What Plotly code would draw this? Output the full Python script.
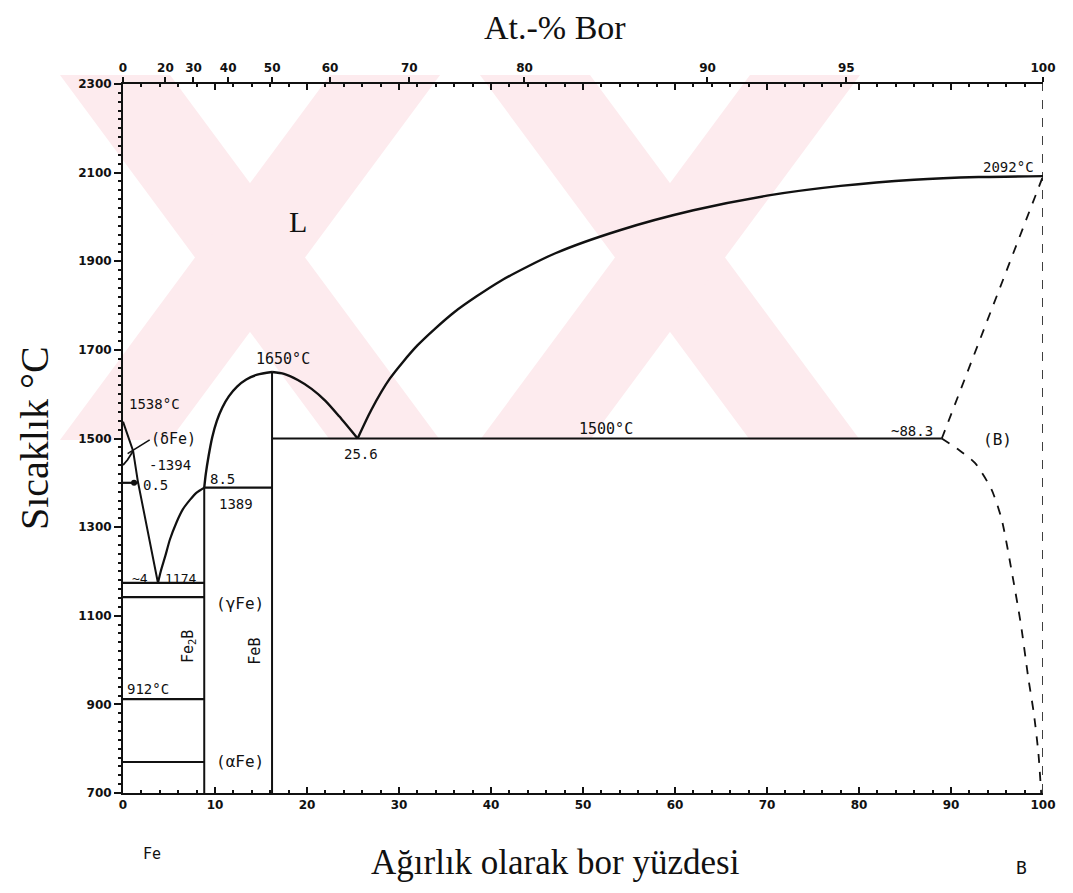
import plotly.graph_objects as go

# ---------------- data (wt.% B, temperature °C) ----------------
liq_fe_x = [0, 0.6, 1.1, 1.6, 2.7, 3.8]
liq_fe_T = [1538, 1500, 1472, 1405, 1290, 1174]

liq_fe2b_x = [3.8, 4.1, 4.6, 5.1, 5.8, 6.5, 7.3, 8.0, 8.83]
liq_fe2b_T = [1174, 1200, 1235, 1272, 1310, 1340, 1362, 1378, 1389]

liq_febL_x = [8.83, 9.0, 9.3, 9.7, 10.2, 10.8, 11.5, 12.4, 13.4, 14.6, 16.2]
liq_febL_T = [1389, 1420, 1460, 1503, 1540, 1570, 1595, 1617, 1633, 1644, 1650]

liq_febR_x = [16.2, 17.5, 19.0, 20.5, 22.0, 23.5, 25.5]
liq_febR_T = [1650, 1646, 1632, 1612, 1585, 1550, 1500]

liq_b_x = [25.5, 27.0, 29.0, 32.0, 36.0, 41.0, 47.0, 54.0, 62.0, 70.0, 78.0, 86.0, 93.0, 100]
liq_b_T = [1500, 1565, 1635, 1710, 1785, 1855, 1918, 1970, 2015, 2048, 2070, 2084, 2090, 2092]

delta_x = [1.1, 0.5, 0.0]
delta_T = [1472, 1452, 1440]

solvus_b_x = [89.0, 90.8, 92.6, 94.4, 95.5, 96.6, 97.6, 98.4, 99.0, 99.5, 99.8]
solvus_b_T = [1500, 1475, 1445, 1385, 1318, 1200, 1080, 960, 880, 790, 700]

sol_b_x = [89.0, 100]
sol_b_T = [1500, 2092]

# horizontal invariant / transformation lines: (x_start, x_end, T)
h_lines = [
    (16.2, 89.0, 1500),
    (8.83, 16.2, 1389),
    (0.0, 1.6, 1400),
    (0.0, 8.83, 1174),
    (0.0, 8.83, 1142),
    (0.0, 8.83, 912),
    (0.0, 8.83, 770),
]
# compound verticals: (x, T_top)
v_lines = [(8.83, 1389), (16.2, 1650)]

# top axis: atomic %
at_pct = [0, 20, 30, 40, 50, 60, 70, 80, 90, 95, 100]
M_B, M_FE = 10.81, 55.847

bottom_ticks = [0, 10, 20, 30, 40, 50, 60, 70, 80, 90, 100]
y_ticks = [700, 900, 1100, 1300, 1500, 1700, 1900, 2100, 2300]

# ---------------- figure ----------------
BLACK = "#111111"
fig = go.Figure()

def add_line(x, y, width=2.2, dash="solid", shape="spline", smoothing=0.7):
    fig.add_trace(go.Scatter(x=x, y=y, mode="lines",
                             line=dict(color=BLACK, width=width, dash=dash, shape=shape,
                                       smoothing=smoothing if shape == "spline" else None),
                             hoverinfo="skip", showlegend=False, cliponaxis=False))

add_line(liq_fe_x, liq_fe_T, 2.0, shape="linear")
add_line(liq_fe2b_x, liq_fe2b_T, 2.2)
add_line(liq_febL_x, liq_febL_T, 2.4)
add_line(liq_febR_x, liq_febR_T, 2.4)
add_line(liq_b_x, liq_b_T, 2.4)
add_line(delta_x, delta_T, 1.8, shape="linear")
add_line(solvus_b_x, solvus_b_T, 1.8, dash="dash")
add_line(sol_b_x, sol_b_T, 1.8, dash="dash", shape="linear")

for x0, x1, T in h_lines:
    add_line([x0, x1], [T, T], 2.2, shape="linear")
for x, Ttop in v_lines:
    add_line([x, x], [700, Ttop], 2.0, shape="linear")

# leader from (δFe) label
add_line([0.5, 2.9], [1466, 1497], 1.6, shape="linear")
# point on 1394 line
fig.add_trace(go.Scatter(x=[1.2], y=[1400], mode="markers",
                         marker=dict(color=BLACK, size=6), hoverinfo="skip",
                         showlegend=False, cliponaxis=False))
# invisible trace for top axis
top_vals = [a * M_B / (a * M_B + (100 - a) * M_FE) * 100 for a in at_pct]
fig.add_trace(go.Scatter(x=[0, 100], y=[700, 700], xaxis="x2", mode="lines",
                         line=dict(width=0), hoverinfo="skip", showlegend=False))

# ---------------- watermark (decorative) ----------------
L, T_, W, H = 123, 84, 920, 709
def px2paper(px, py):
    return (px - L) / W, (T_ + H - py) / H
def poly(pts):
    s = ""
    for i, (px, py) in enumerate(pts):
        xx, yy = px2paper(px, py)
        s += ("M" if i == 0 else "L") + f"{xx:.4f},{yy:.4f} "
    return s + "Z"
ytop, ybot = 75, 440
bands = [
    [(60, ytop), (170, ytop), (440, ybot), (330, ybot)],
    [(330, ytop), (440, ytop), (170, ybot), (60, ybot)],
    [(480, ytop), (590, ytop), (860, ybot), (750, ybot)],
    [(750, ytop), (860, ytop), (590, ybot), (480, ybot)],
]
shapes = []
for b in bands:
    shapes.append(dict(type="path", path=poly(b), xref="paper", yref="paper",
                       fillcolor="#fdebee", line=dict(width=0), layer="below"))
# right frame (dashed in the original)
shapes.append(dict(type="line", xref="x", yref="y", x0=100, x1=100, y0=700, y1=2300,
                   line=dict(color=BLACK, width=1.6, dash="dash")))

MONO = "DejaVu Sans Mono"
SERIF = "Liberation Serif"
def note(x, y, text, size=14, xanchor="center", yanchor="middle", angle=0, family=MONO):
    return dict(x=x, y=y, xref="x", yref="y", text=text, showarrow=False,
                xanchor=xanchor, yanchor=yanchor, textangle=angle,
                font=dict(family=family, size=size, color=BLACK))

annotations = [
    note(0.4, 1578, "1538°C", 14, "left"),
    note(2.8, 1500, "(δFe)", 15, "left"),
    note(2.6, 1440, "-1394", 14, "left"),
    note(2.0, 1395, "0.5", 14, "left"),
    note(9.2, 1408, "8.5", 14, "left"),
    note(10.2, 1352, "1389", 14, "left"),
    note(0.8, 1185, "~4", 13, "left"),
    note(4.4, 1185, "1174", 13, "left"),
    note(9.9, 1128, "(γFe)", 16, "left"),
    note(9.9, 772, "(αFe)", 16, "left"),
    note(0.2, 935, "912°C", 14, "left"),
    note(7.1, 1030, "Fe<sub>2</sub>B", 15, angle=-90),
    note(14.4, 1020, "FeB", 15, angle=-90),
    note(17.4, 1680, "1650°C", 15),
    note(25.9, 1466, "25.6", 14),
    note(52.5, 1522, "1500°C", 15),
    note(85.8, 1516, "~88.3", 14),
    note(95.1, 1497, "(B)", 16),
    note(96.3, 2112, "2092°C", 14),
    note(19.0, 1990, "L", 30, family=SERIF),
    dict(x=0.47, y=1.0, xref="paper", yref="paper", yshift=36, text="At.-% Bor",
         showarrow=False, yanchor="bottom", font=dict(family=SERIF, size=34, color=BLACK)),
    dict(x=0.47, y=0, xref="paper", yref="paper", yshift=-48, text="Ağırlık olarak bor yüzdesi",
         showarrow=False, yanchor="top", font=dict(family=SERIF, size=35, color=BLACK)),
    dict(x=0, y=0.5, xref="paper", yref="paper", xshift=-64, text="Sıcaklık °C",
         showarrow=False, textangle=-90, xanchor="right",
         font=dict(family=SERIF, size=40, color=BLACK)),
    dict(x=0.02, y=0, xref="paper", yref="paper", yshift=-50, text="Fe", showarrow=False,
         yanchor="top", font=dict(family=MONO, size=15, color=BLACK)),
    dict(x=0.985, y=0, xref="paper", yref="paper", yshift=-62, text="B", showarrow=False,
         yanchor="top", font=dict(family=MONO, size=18, color=BLACK)),
]

tickfont = dict(family="DejaVu Sans", size=12, color=BLACK, weight="bold")
fig.update_layout(
    width=1073, height=893,
    margin=dict(l=L, r=1073 - L - W, t=T_, b=893 - T_ - H),
    paper_bgcolor="white", plot_bgcolor="rgba(0,0,0,0)",
    showlegend=False,
    shapes=shapes, annotations=annotations,
    xaxis=dict(range=[0, 100], tickvals=bottom_ticks, ticks="inside", ticklen=6,
               tickwidth=1.5, tickcolor=BLACK, showline=True, linecolor=BLACK, linewidth=2,
               mirror="ticks", showgrid=False, zeroline=False, tickfont=tickfont,
               minor=dict(ticks="inside", ticklen=3, tickcolor=BLACK, dtick=2)),
    xaxis2=dict(range=[0, 100], overlaying="x", side="top", tickvals=top_vals,
                ticktext=[str(a) for a in at_pct], ticks="outside", ticklen=5,
                tickwidth=1.5, tickcolor=BLACK, showline=True, linecolor=BLACK,
                linewidth=2, showgrid=False, zeroline=False, tickfont=tickfont),
    yaxis=dict(range=[700, 2300], tickvals=y_ticks, ticks="outside", ticklen=7,
               tickwidth=1.5, tickcolor=BLACK, showline=True, linecolor=BLACK, linewidth=2,
               showgrid=False, zeroline=False, tickfont=tickfont,
               minor=dict(ticks="outside", ticklen=3, tickcolor=BLACK, dtick=20)),
)

fig.write_html("out.html")
